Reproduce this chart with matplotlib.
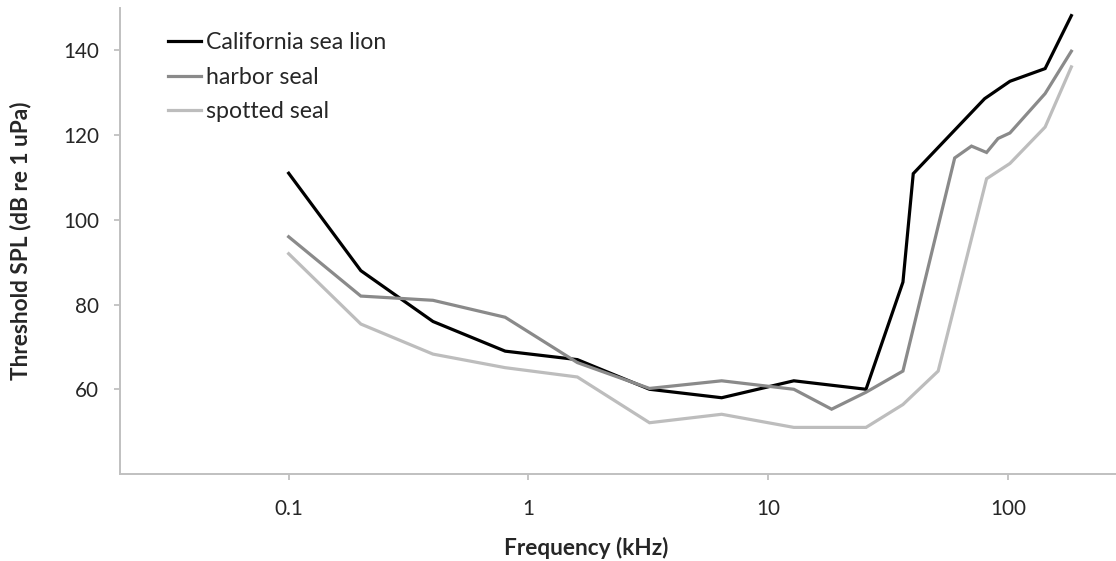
import matplotlib
matplotlib.use("Agg")
import matplotlib.pyplot as plt

# Data (frequency in kHz, threshold in dB re 1 uPa)
csl_freq = [0.1, 0.2, 0.4, 0.8, 1.6, 3.2, 6.4, 12.8, 25.6, 36.5, 40.3, 80, 102, 143, 184]
csl_spl = [111, 88, 76, 69, 67, 60, 58, 62, 60, 85.3, 110.9, 128.6, 132.7, 135.7, 148.2]

harbor_freq = [0.1, 0.2, 0.4, 0.8, 1.6, 3.2, 6.4, 12.8, 18.4, 25.6, 36.5, 60, 70.5, 81.5, 91, 102, 143, 184]
harbor_spl = [96, 82, 81, 77, 66.3, 60.2, 62, 60, 55.3, 59.3, 64.3, 114.6, 117.4, 115.9, 119.2, 120.5, 129.8, 139.8]

spotted_freq = [0.1, 0.2, 0.4, 0.8, 1.6, 3.2, 6.4, 12.8, 25.6, 36.5, 51.2, 81.5, 102, 143, 184]
spotted_spl = [92, 75.4, 68.3, 65.1, 62.9, 52.1, 54.1, 51, 51, 56.4, 64.3, 109.7, 113.3, 121.9, 136.1]

series_names = ["California sea lion", "harbor seal", "spotted seal"]
y_ticks = [60, 80, 100, 120, 140]
x_ticks = [0.1, 1, 10, 100]
x_tick_labels = ["0.1", "1", "10", "100"]
x_title = "Frequency (kHz)"
y_title = "Threshold SPL (dB re 1 uPa)"

plt.rcParams['font.family'] = ['Lato', 'DejaVu Sans']

W, H = 1116, 561
fig = plt.figure(figsize=(W / 100, H / 100), dpi=100)
renderer = fig.canvas.get_renderer()


def fitted_size(text, target, base=15, weight='normal', use_height=False):
    t = fig.text(0, 0, text, fontsize=base, fontweight=weight,
                 rotation=90 if use_height else 0)
    bb = t.get_window_extent(renderer)
    t.remove()
    size = bb.height if use_height else bb.width
    return base * target / size


tick_fs = fitted_size("140", 36)
leg_fs = fitted_size(series_names[0], 180)
xl_fs = fitted_size(x_title, 164, weight='bold')
yl_fs = fitted_size(y_title, 282, weight='bold', use_height=True)
ttl_fs = min(xl_fs, yl_fs) * 0.5 + max(xl_fs, yl_fs) * 0.5

ax = fig.add_axes([120 / W, 1 - 474 / H, (W - 120) / W, (474 - 8) / H])

colors = ["#000000", "#8a8a8a", "#bdbdbd"]
for f, s, c, n in zip([csl_freq, harbor_freq, spotted_freq],
                      [csl_spl, harbor_spl, spotted_spl], colors, series_names):
    ax.plot(f, s, color=c, lw=2.3, label=n, solid_joinstyle='miter')

ax.set_xscale('log')
ax.set_xlim(10 ** (-1.7035), 10 ** 2.451)
ax.set_ylim(40, 150)
ax.set_xticks(x_ticks)
ax.set_xticklabels(x_tick_labels)
ax.minorticks_off()
ax.set_yticks(y_ticks)

for sp in ['top', 'right']:
    ax.spines[sp].set_visible(False)
for sp in ['left', 'bottom']:
    ax.spines[sp].set_color('#c0c0c0')
    ax.spines[sp].set_linewidth(1.4)
ax.tick_params(axis='both', colors='#c0c0c0', length=4.5, width=1.3,
               labelcolor='#262626', labelsize=tick_fs)
ax.tick_params(axis='x', pad=13.5)
ax.tick_params(axis='y', pad=10.5)

fig.text(586 / W, 1 - 548 / H, x_title, fontsize=ttl_fs, fontweight='bold',
         ha='center', va='center', color='#262626')
fig.text(21 / W, 1 - 241 / H, y_title, fontsize=ttl_fs, fontweight='bold',
         ha='center', va='center', rotation=90, color='#262626')

# legend: rows 34.5 px apart, first text centred at y = 42.7 px
fs_px = leg_fs * 100 / 72
probe = fig.text(0, 0, series_names[0], fontsize=leg_fs)
th = probe.get_window_extent(renderer).height
probe.remove()
spacing = (34.5 - th) / fs_px
leg = ax.legend(loc='upper left', bbox_to_anchor=(168 / W, 1 - 30 / H),
                bbox_transform=fig.transFigure, frameon=False, borderpad=0, borderaxespad=0,
                fontsize=leg_fs, handlelength=33 / fs_px, handletextpad=5 / fs_px,
                labelspacing=spacing)
for t in leg.get_texts():
    t.set_color('#262626')
fig.canvas.draw()
bb = leg.get_texts()[0].get_window_extent(renderer)
cy = H - (bb.y0 + bb.y1) / 2
dy = cy - 42.7
leg.set_bbox_to_anchor((168 / W, 1 - (30 - dy) / H), transform=fig.transFigure)

fig.savefig("out.png", dpi=100)
